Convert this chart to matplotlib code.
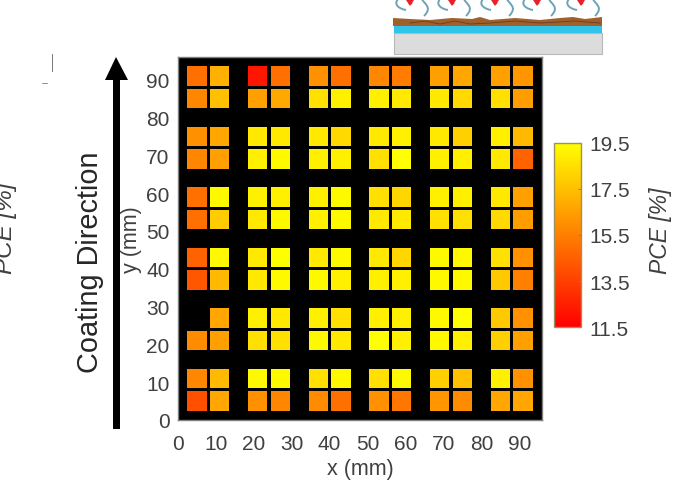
import matplotlib
matplotlib.use("Agg")
import matplotlib.pyplot as plt
import numpy as np
from matplotlib.collections import PatchCollection
from matplotlib.patches import Rectangle, Polygon, PathPatch
from matplotlib.path import Path

plt.rcParams['font.family'] = ['Liberation Sans', 'DejaVu Sans']

# pixel centres in mm
x_centers = [5, 11, 21, 27, 37, 43, 53, 59, 69, 75, 85, 91]
y_centers = [91, 85, 75, 69, 59, 53, 43, 37, 27, 21, 11, 5]
pixel_size = 5.1

# PCE [%], one row per y_centers entry, nan = dead pixel
pce = [
    [15.0, 17.0, 12.2, 15.0, 16.0, 15.0, 15.7, 15.4, 16.5, 16.7, 16.5, 16.2],
    [15.7, 17.5, 16.5, 16.8, 18.5, 19.0, 19.0, 18.8, 18.8, 18.3, 18.5, 16.4],
    [16.0, 16.7, 18.8, 18.8, 18.8, 18.3, 18.8, 19.0, 18.8, 18.0, 19.0, 17.3],
    [15.7, 16.5, 19.0, 19.3, 19.0, 19.0, 18.5, 19.5, 19.0, 19.0, 18.8, 14.6],
    [15.0, 19.3, 19.0, 19.0, 19.0, 19.3, 18.5, 18.2, 19.0, 19.0, 18.8, 16.5],
    [15.0, 17.9, 18.8, 19.3, 19.0, 19.3, 18.8, 18.8, 18.5, 18.5, 18.3, 16.4],
    [14.6, 19.3, 18.8, 19.5, 18.8, 19.3, 18.8, 18.2, 19.3, 19.3, 18.5, 16.0],
    [14.2, 17.3, 18.8, 19.3, 19.3, 19.0, 19.0, 19.0, 19.3, 19.3, 17.8, 15.5],
    [np.nan, 16.7, 19.0, 18.8, 19.0, 18.5, 19.0, 19.0, 19.3, 19.5, 17.8, 16.0],
    [15.9, 16.5, 18.5, 18.5, 19.3, 18.8, 19.5, 19.0, 19.3, 19.0, 18.0, 16.5],
    [15.7, 17.3, 19.3, 19.3, 18.5, 19.3, 18.5, 19.3, 18.0, 17.5, 19.0, 16.0],
    [14.0, 16.7, 16.0, 15.7, 15.9, 15.0, 16.0, 15.2, 16.2, 15.9, 16.7, 16.7],
]

x_ticks = [0, 10, 20, 30, 40, 50, 60, 70, 80, 90]
y_ticks = [0, 10, 20, 30, 40, 50, 60, 70, 80, 90]
cbar_ticks = [11.5, 13.5, 15.5, 17.5, 19.5]
text_col = '#404040'

fig = plt.figure(figsize=(6.79, 4.81), dpi=100)
W, H = 679, 481

# overlay in pixel coords for the schematic, arrow and stray text
over = fig.add_axes([0, 0, 1, 1])
over.set_xlim(0, W)
over.set_ylim(H, 0)
over.axis('off')

ax = fig.add_axes([178 / W, 1 - 421 / H, 364 / W, 363 / H])
ax.set_facecolor('black')
patches, vals = [], []
for r, y in enumerate(y_centers):
    for c, x in enumerate(x_centers):
        if np.isnan(pce[r][c]):
            continue
        patches.append(Rectangle((x - pixel_size / 2, y - pixel_size / 2), pixel_size, pixel_size))
        vals.append(pce[r][c])
pc = PatchCollection(patches, cmap='autumn', edgecolor='none')
pc.set_array(np.array(vals))
pc.set_clim(11.5, 19.5)
ax.add_collection(pc)
ax.set_xlim(0, 96)
ax.set_ylim(0, 96)
ax.set_xticks(x_ticks)
ax.set_yticks(y_ticks)
ax.tick_params(labelsize=15, labelcolor=text_col, length=0)
ax.tick_params(axis='x', pad=10)
ax.tick_params(axis='y', pad=6)
ax.set_xlabel('x (mm)', fontsize=15.5, color=text_col, labelpad=4)
for s in ax.spines.values():
    s.set_color('#808080')
    s.set_linewidth(1)

cax = fig.add_axes([554 / W, 1 - 328 / H, 27 / W, 184 / H])
cb = fig.colorbar(pc, cax=cax)
cb.set_ticks(cbar_ticks)
cb.ax.tick_params(labelsize=15, labelcolor=text_col, length=2, direction='in', color='#a08030', pad=6)
cb.outline.set_edgecolor('#a09060')
cb.outline.set_linewidth(1)

# labels placed by hand, they overlap the tick labels in the original
over.text(131, 240, 'y (mm)', fontsize=15.5, color=text_col, rotation=90, ha='center', va='center')
over.text(90, 262, 'Coating Direction', fontsize=20.8, color='#262626', rotation=90, ha='center', va='center')
over.text(661, 231, 'PCE [%]', fontsize=16.5, color=text_col, rotation=90, ha='center', va='center', style='italic')
over.text(6, 228, 'PCE [%]', fontsize=17.5, color=text_col, rotation=90, ha='center', va='center', style='italic')

# coating direction arrow
over.add_patch(Rectangle((112.5, 80), 7, 350, color='black', lw=0))
over.add_patch(Polygon([(116, 58), (105, 81), (128, 81)], closed=True, color='black', lw=0))

# stray marks
over.plot([52, 52], [55, 72], color='#606060', lw=0.6)
over.plot([42, 47], [84, 84], color='#808080', lw=0.6)

# device schematic
over.add_patch(Rectangle((394, 34), 208, 21, facecolor='#dcdcdc', edgecolor='#b8b8b8', lw=0.8))
over.add_patch(Rectangle((394, 27), 208, 7, facecolor='#2fc4e8', edgecolor='none'))
top_edge = [(393, 19), (410, 20), (430, 21), (452, 19), (472, 20), (480, 18), (490, 21), (515, 19),
            (540, 21), (560, 19), (573, 18), (585, 20), (602, 18)]
over.add_patch(Polygon(top_edge + [(602, 27), (393, 27)], closed=True, facecolor='#a0602c', edgecolor='none'))
over.plot([410, 425, 440, 455, 470, 490, 515, 540, 575, 600], [24, 22, 25, 22, 25, 24, 22, 24, 22, 24],
          color='#6b3d1a', lw=0.6)
for cx in [410, 452, 495, 537, 581]:
    over.add_patch(Polygon([(cx - 4, 1), (cx + 4, 1), (cx, 7)], closed=True, color='#e8202c', lw=0))
    over.plot([cx, cx], [0, 3], color='#e8202c', lw=2.5)
    left = Path([(cx - 12, 0), (cx - 17, 6), (cx - 10, 10), (cx - 4, 11)],
                [Path.MOVETO, Path.CURVE4, Path.CURVE4, Path.CURVE4])
    right = Path([(cx + 12, 0), (cx + 14, 5), (cx + 23, 8), (cx + 14, 17)],
                 [Path.MOVETO, Path.CURVE4, Path.CURVE4, Path.CURVE4])
    for p in (left, right):
        over.add_patch(PathPatch(p, facecolor='none', edgecolor='#6fa3b3', lw=1.4))

fig.savefig('out.png', dpi=100)
